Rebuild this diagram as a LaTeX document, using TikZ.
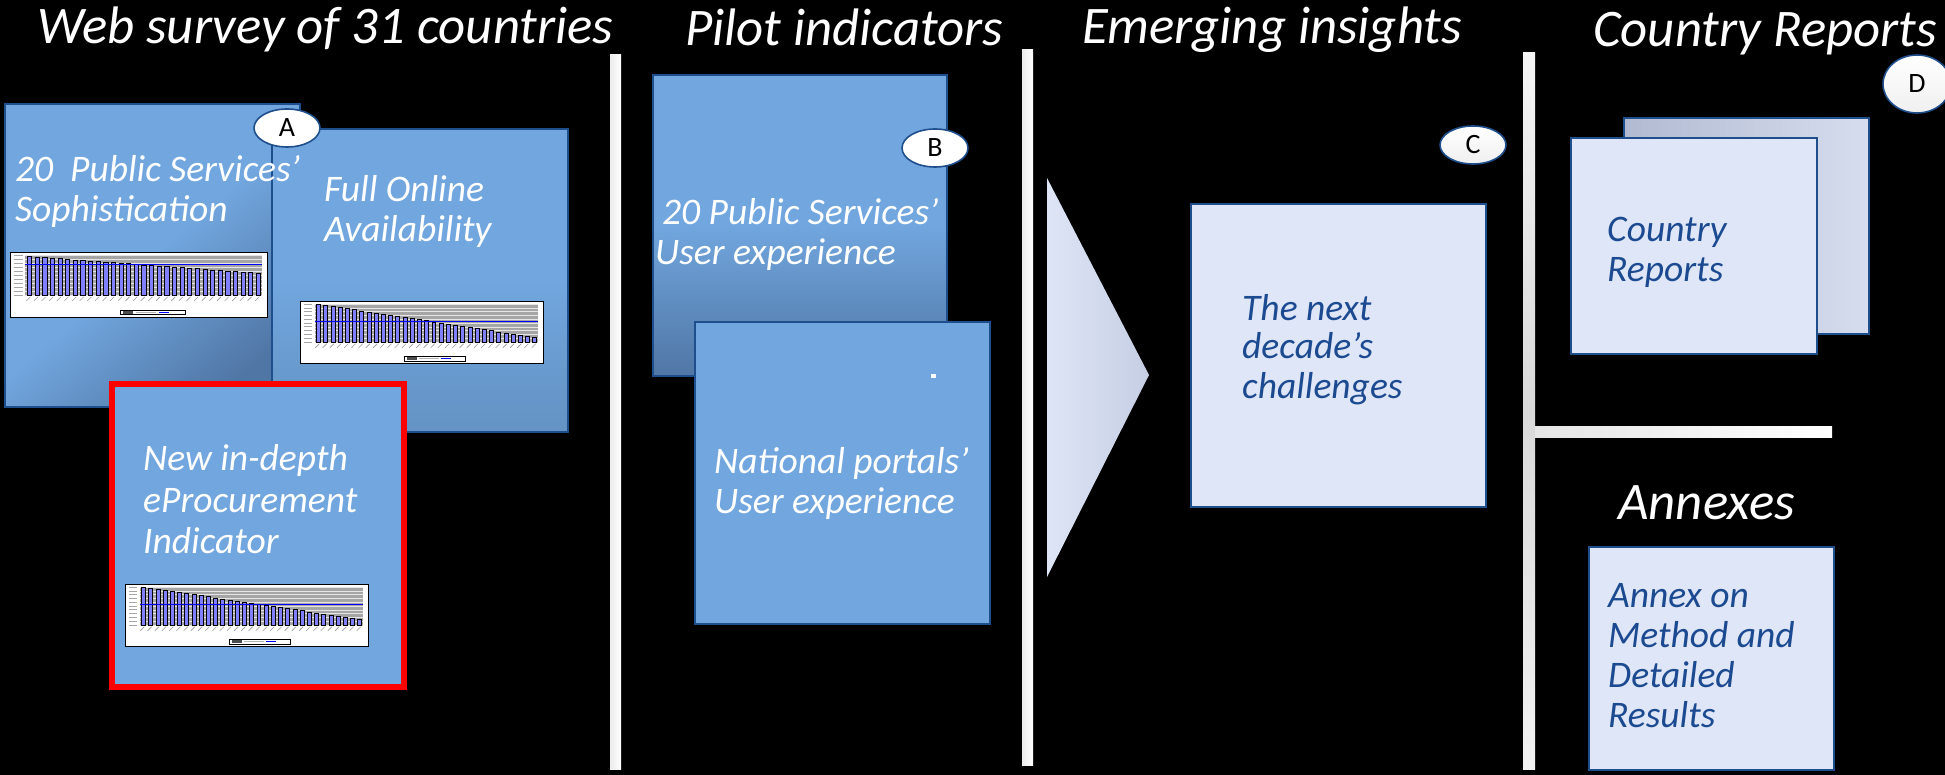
\documentclass[tikz,border=0pt]{standalone}
\usepackage{fontspec}
\setmainfont{Carlito}
\usetikzlibrary{shapes.geometric}
\definecolor{boxblue}{RGB}{113,166,222}
\definecolor{boxdark}{RGB}{80,118,165}
\definecolor{bordblue}{RGB}{31,78,140}
\definecolor{lightbox}{RGB}{223,230,247}
\definecolor{textblue}{RGB}{28,74,145}
\definecolor{barfill}{RGB}{128,128,255}
\definecolor{plotgray}{RGB}{165,165,165}
\definecolor{chevL}{RGB}{222,229,246}
\definecolor{chevR}{RGB}{198,206,228}
\definecolor{backL}{RGB}{178,186,210}
\definecolor{backR}{RGB}{214,221,238}
\tikzset{
  title/.style={anchor=base west, inner sep=0, text=white, font=\fontsize{52.8}{60}\selectfont\itshape},
  boxtext/.style={anchor=base west, inner sep=0, text=white, font=\fontsize{37.5}{40}\selectfont\itshape},
  darktext/.style={boxtext, text=textblue},
  bluebox/.style={anchor=north west, inner sep=0, draw=bordblue, line width=2, fill=boxblue},
  lightbx/.style={anchor=north west, inner sep=0, draw=bordblue, line width=2, fill=lightbox},
  badge/.style={ellipse, draw=bordblue, line width=1.6, fill=white, inner sep=0,
    minimum width=66, minimum height=38, font=\fontsize{28}{30}\selectfont, text=black},
}
\newcommand\minichart[7]{% x0 y0 w h first last avg
\begin{scope}[shift={(#1,#2)}]
  \fill[white] (0,0) rectangle (#3,#4);
  \fill[plotgray] ({0.06*#3},{0.05*#4}) rectangle ({0.98*#3},{0.66*#4});
  \foreach \k in {0,...,10}
    \draw[white!80!gray, line width=0.5] ({0.06*#3},{0.05*#4+\k*0.061*#4}) -- ({0.98*#3},{0.05*#4+\k*0.061*#4});
  \foreach \k in {0,...,10}
    \draw[gray!70, line width=0.6] ({0.015*#3},{0.05*#4+\k*0.061*#4}) -- ({0.05*#3},{0.05*#4+\k*0.061*#4});
  \foreach \i in {0,...,30} {
    \pgfmathsetmacro\bx{0.06*#3+(\i+0.25)*0.92*#3/31}
    \pgfmathsetmacro\bh{(#5-(#5-#6)*\i/30)*0.61*#4}
    \draw[black, fill=barfill, line width=0.5] (\bx,{0.66*#4}) rectangle ({\bx+0.55*0.92*#3/31},{0.66*#4-\bh});
    \draw[gray!80, line width=0.6] ({\bx+3},{0.69*#4}) -- ++(-4,4);
  }
  \draw[blue, line width=0.9] ({0.06*#3},{0.66*#4-#7*0.61*#4}) -- ({0.98*#3},{0.66*#4-#7*0.61*#4});
  \draw[black, line width=0.5, fill=white] ({0.43*#3},{0.895*#4}) rectangle ({0.68*#3},{0.965*#4});
  \fill[black!70] ({0.44*#3},{0.91*#4}) rectangle ({0.48*#3},{0.95*#4});
  \draw[gray!60, line width=0.8] ({0.49*#3},{0.93*#4}) -- ({0.57*#3},{0.93*#4});
  \draw[blue, line width=0.8] ({0.58*#3},{0.93*#4}) -- ({0.62*#3},{0.93*#4});
  \draw[black, line width=0.8] (0,0) rectangle (#3,#4);
\end{scope}}
\begin{document}
\begin{tikzpicture}[x=1pt,y=-1pt]
\fill[black] (0,0) rectangle (1945,775);
\useasboundingbox (0,0) rectangle (1945,775);

% titles
\node[title] (t1) at (37,44) {Web survey of 31 countries};
\node[title] (t2) at (685,46) {Pilot indicators};
\node[title] (t3) at (1082,44) {Emerging insights};
\node[title] (t4) at (1593,47) {Country Reports};
\node[title] (t5) at (1618,519) {Annexes};

% separators
\shade[left color=white!85!gray, right color=white] (610,55) rectangle (621,769);
\shade[left color=white!85!gray, right color=white] (1022,50) rectangle (1033,765);
\shade[top color=white!92!gray, bottom color=white!90!gray, middle color=white!70!gray] (1523,53) rectangle (1535,769);
\shade[left color=white!80!gray, right color=white] (1535,426) rectangle (1832,437);

% column 1
\node[bluebox, minimum width=295, minimum height=303, top color=boxblue, bottom color=boxdark, middle color=boxblue, shading angle=40] (boxA) at (4,103) {};
\minichart{10}{252}{257}{65}{0.97}{0.55}{0.77}
\node[bluebox, minimum width=296, minimum height=303, top color=boxblue, bottom color=boxblue!88!black, middle color=boxblue] (boxF) at (271,128) {};
\minichart{300}{301}{243}{62}{1.0}{0.12}{0.55}
\node[badge] (bA) at (287,128) {A};
\node[bluebox, draw=red, line width=6, minimum width=292, minimum height=303] (boxR) at (109,381) {};
\minichart{125}{584}{243}{62}{1.0}{0.15}{0.55}
\node[boxtext] (a1) at (15,182) {20~~Public Services’};
\node[boxtext] (a2) at (15,222) {Sophistication};
\node[boxtext] (f1) at (324,202) {Full Online};
\node[boxtext] (f2) at (324,242) {Availability};
\node[boxtext] (r1) at (143,470) {New in-depth};
\node[boxtext] (r2) at (143,512) {eProcurement};
\node[boxtext] (r3) at (143,553) {Indicator};

% column 2
\node[bluebox, minimum width=294, minimum height=301, top color=boxblue, bottom color=boxdark, middle color=boxblue] (boxB1) at (652,74) {};
\node[badge] (bB) at (935,148) {B};
\node[bluebox, minimum width=295, minimum height=302] (boxB2) at (694,321) {};
\fill[white] (931,374) rectangle (936,378);
\node[boxtext] (b1) at (662,225) {20 Public Services’};
\node[boxtext] (b2) at (655,265) {User experience};
\node[boxtext] (b3) at (714,473) {National portals’};
\node[boxtext] (b4) at (714,513) {User experience};

% column 3
\shade[left color=chevL, right color=chevR] (1047,178) -- (1149,375) -- (1047,577) -- cycle;
\node[lightbx, minimum width=295, minimum height=303] (boxC) at (1190,203) {};
\node[badge, top color=white, bottom color=white!88!gray] (bC) at (1473,145) {C};
\node[darktext] (c1) at (1242,320) {The next};
\node[darktext] (c2) at (1242,359) {decade’s};
\node[darktext] (c3) at (1242,398) {challenges};

% column 4
\node[badge, minimum width=68, minimum height=58, top color=white, bottom color=white!88!gray] (bD) at (1917,84) {D};
\node[lightbx, minimum width=245, minimum height=216, left color=backL, right color=backR] (boxCRb) at (1623,117) {};
\node[lightbx, minimum width=246, minimum height=216] (boxCR) at (1570,137) {};
\node[darktext] (d1) at (1607,242) {Country};
\node[darktext] (d2) at (1607,282) {Reports};
\node[lightbx, minimum width=245, minimum height=223] (boxAn) at (1588,546) {};
\node[darktext] (e1) at (1608,607) {Annex on};
\node[darktext] (e2) at (1608,647) {Method and};
\node[darktext] (e3) at (1608,687) {Detailed};
\node[darktext] (e4) at (1608,727) {Results};
\end{tikzpicture}
\end{document}
